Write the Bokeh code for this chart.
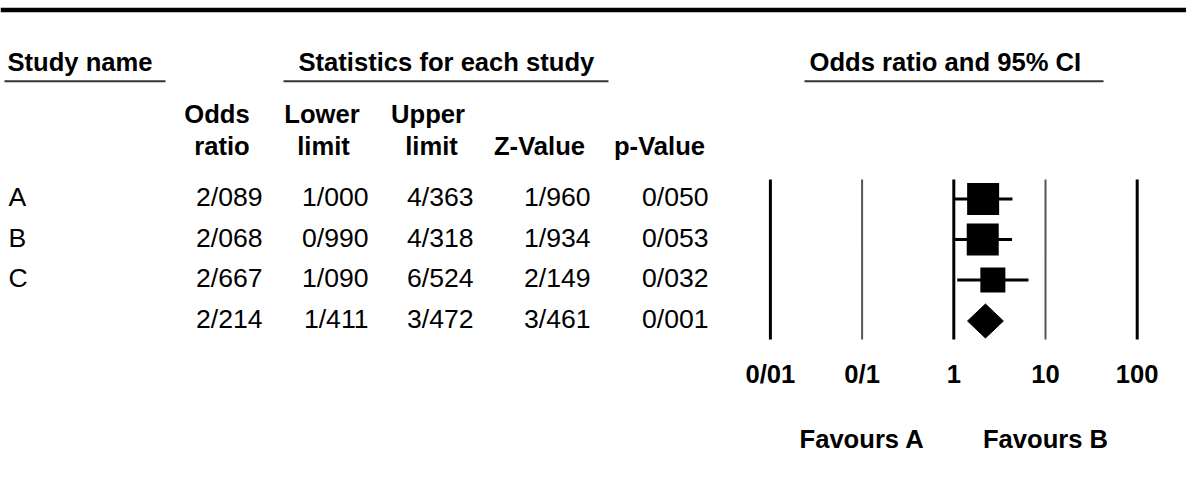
from bokeh.plotting import figure
from bokeh.models import Range1d, LogScale
from bokeh.embed import file_html
from bokeh.resources import INLINE
from bokeh.core.properties import value

# ---------------- data ----------------
studies = ["A", "B", "C", ""]
odds_ratio = [2.089, 2.068, 2.667, 2.214]
lower_limit = [1.000, 0.990, 1.090, 1.411]
upper_limit = [4.363, 4.318, 6.524, 3.472]
z_value = [1.960, 1.934, 2.149, 3.461]
p_value = [0.050, 0.053, 0.032, 0.001]
ticks = [0.01, 0.1, 1, 10, 100]
tick_labels = ["0/01", "0/1", "1", "10", "100"]
favours = ["Favours A", "Favours B"]
favours_at = [0.1, 10]


def fmt(v):
    return f"{v:.3f}".replace(".", "/")


# ---------------- layout ----------------
W, H = 1186, 492
LEFT, TOP = 0, 0                      # page offset of the figure
OR1_PX, DECADE_PX = 953.3, 91.7       # page x of OR=1 and px per decade
FONT = value("Liberation Sans")
BOLD_SIZE = "25.6px"
REG_SIZE = "26.6px"
DY = -9.5                             # baseline correction for svg text

row_mid = [198.5, 239, 279.5, 320.5]  # row centres (page px)
row_base = [y + 7.8 + DY for y in row_mid]  # text baselines
box_size = [32, 32, 25]

p = figure(width=W, height=H, output_backend="svg", toolbar_location=None,
           x_axis_location=None, y_axis_location=None,
           x_range=Range1d(LEFT, LEFT + W), y_range=Range1d(TOP + H, TOP),
           min_border=0, outline_line_color=None)
p.xgrid.visible = False
p.ygrid.visible = False
p.background_fill_color = "white"
p.border_fill_color = "white"

lo = 10 ** ((LEFT - OR1_PX) / DECADE_PX)
hi = 10 ** ((LEFT + W - OR1_PX) / DECADE_PX)
p.extra_x_ranges = {"or": Range1d(lo, hi)}
p.extra_x_scales = {"or": LogScale()}

# top rule
p.segment(x0=[LEFT], y0=[9.5], x1=[LEFT + W], y1=[9.5], line_width=4.5, line_color="black")

# section headers with underlines
hdr_text = ["Study name", "Statistics for each study", "Odds ratio and 95% CI"]
hdr_x = [7, 298, 809]
p.text(x=hdr_x, y=[71 + DY] * 3, text=hdr_text, text_font=FONT, text_font_size=BOLD_SIZE,
       text_font_style="bold", text_align="left", text_baseline="alphabetic", text_color="black")
p.segment(x0=[4, 283, 804], y0=[80.7] * 3, x1=[165, 608, 1103], y1=[80.7] * 3,
          line_width=2, line_color="#333333")

# column headers
top_words = ["Odds", "Lower", "Upper"]
top_x = [216.5, 321.5, 427.5]
bot_words = ["ratio", "limit", "limit", "Z-Value", "p-Value"]
bot_x = [221.5, 323, 431, 539, 659]
p.text(x=top_x, y=[123 + DY] * 3, text=top_words, text_font=FONT, text_font_size=BOLD_SIZE,
       text_font_style="bold", text_align="center", text_baseline="alphabetic")
p.text(x=bot_x, y=[155 + DY] * 5, text=bot_words, text_font=FONT, text_font_size=BOLD_SIZE,
       text_font_style="bold", text_align="center", text_baseline="alphabetic")

# study names
p.text(x=8, y=row_base, text=studies, text_font=FONT, text_font_size=REG_SIZE,
       text_align="left", text_baseline="alphabetic", text_color="black")

# numeric columns (right aligned)
col_right = [262, 368, 473, 590, 708]
for cx, col in zip(col_right, [odds_ratio, lower_limit, upper_limit, z_value, p_value]):
    p.text(x=cx, y=row_base, text=[fmt(v) for v in col], text_font=FONT,
           text_font_size=REG_SIZE, text_align="right", text_baseline="alphabetic",
           text_color="black")

# forest plot: reference lines
tick_w = [3, 2, 3, 2, 3]
tick_c = ["black", "#555555", "black", "#555555", "black"]
p.segment(x0=ticks, y0=[179] * 5, x1=ticks, y1=[339] * 5, x_range_name="or",
          line_width=tick_w, line_color=tick_c)

# confidence intervals and boxes
n = 3
p.segment(x0=lower_limit[:n], y0=row_mid[:n], x1=upper_limit[:n], y1=row_mid[:n],
          x_range_name="or", line_width=3, line_color="black")
p.scatter(x=odds_ratio[:n], y=row_mid[:n], size=box_size, marker="square",
          x_range_name="or", fill_color="black", line_color=None)

# summary diamond
ym = row_mid[3]
p.patch(x=[lower_limit[3], odds_ratio[3], upper_limit[3], odds_ratio[3]],
        y=[ym, ym - 17, ym, ym + 17], x_range_name="or",
        fill_color="black", line_color="black", line_width=1)

# tick labels and favours labels
p.text(x=ticks, y=[383 + DY] * 5, text=tick_labels, x_range_name="or", text_font=FONT,
       text_font_size=BOLD_SIZE, text_font_style="bold", text_align="center",
       text_baseline="alphabetic")
p.text(x=favours_at, y=[448 + DY] * 2, text=favours, x_range_name="or", text_font=FONT,
       text_font_size=BOLD_SIZE, text_font_style="bold", text_align="center",
       text_baseline="alphabetic")

open("out.html", "w").write(file_html(p, INLINE))
